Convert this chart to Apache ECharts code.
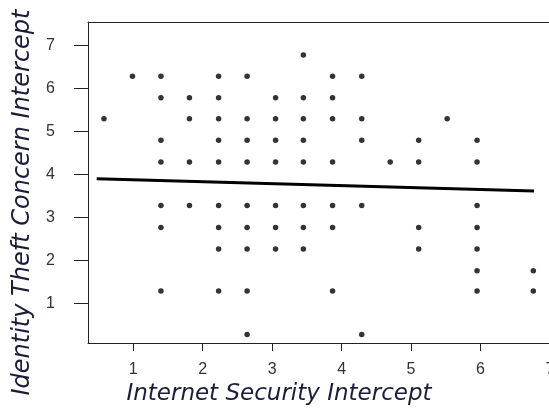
<!DOCTYPE html>
<html>
<head>
<meta charset="utf-8">
<script src="https://cdn.jsdelivr.net/npm/echarts@6/dist/echarts.min.js"></script>
<style>
  html, body { margin: 0; padding: 0; background: #fff; }
  #chart { width: 549px; height: 412px; }
</style>
</head>
<body>
<div id="chart"></div>
<script>
// x positions of the point columns (Internet Security Intercept)
const colX = [0.58, 0.99, 1.40, 1.81, 2.23, 2.64, 3.05, 3.45, 3.87, 4.29, 4.70, 5.11, 5.52, 5.95, 6.76];
// y values in each column (Identity Theft Concern Intercept)
const colY = [
  [5.30],
  [6.29],
  [6.29, 5.79, 4.80, 4.29, 3.28, 2.77, 1.29],
  [5.79, 5.30, 4.29, 3.28],
  [6.29, 5.79, 5.30, 4.80, 4.29, 3.28, 2.77, 2.27, 1.29],
  [6.29, 5.30, 4.80, 4.29, 3.28, 2.77, 2.27, 1.29, 0.28],
  [5.79, 5.30, 4.80, 4.29, 3.28, 2.77, 2.27],
  [6.78, 5.79, 5.30, 4.80, 4.29, 3.28, 2.77, 2.27],
  [6.29, 5.79, 5.30, 4.29, 3.28, 2.77, 1.29],
  [6.29, 5.30, 4.80, 3.28, 0.28],
  [4.29],
  [4.80, 4.29, 2.77, 2.27],
  [5.30],
  [4.80, 4.29, 3.28, 2.77, 2.27, 1.76, 1.29],
  [1.76, 1.29]
];
// fitted line end points
const lineX = [0.475, 6.77];
const lineY = [3.90, 3.62];
const xTicks = [1, 2, 3, 4, 5, 6, 7];
const yTicks = [1, 2, 3, 4, 5, 6, 7];

const points = [];
colX.forEach((x, i) => colY[i].forEach(y => points.push([x, y])));
const linePts = lineX.map((x, i) => [x, lineY[i]]);

const chart = echarts.init(document.getElementById('chart'));
chart.setOption({
  animation: false,
  backgroundColor: '#fff',
  grid: {
    left: 88, top: 22, right: -1, bottom: 69,
    containLabel: false, outerBoundsMode: 'none', show: false
  },
  xAxis: [
    {
      type: 'value', min: 0.35, max: 7,
      name: 'Internet Security Intercept',
      nameLocation: 'middle', nameGap: 40,
      nameTextStyle: {
        fontFamily: 'DejaVu Sans', fontStyle: 'italic', fontSize: 23,
        color: '#1c1c3a', padding: [0, 80, 0, 0]
      },
      axisLine: { show: true, onZero: false, lineStyle: { color: '#222', width: 1 } },
      axisTick: { show: true, length: 8, customValues: xTicks, lineStyle: { color: '#222' } },
      axisLabel: {
        customValues: xTicks, margin: 19,
        fontFamily: 'Liberation Sans', fontSize: 16, color: '#333'
      },
      splitLine: { show: false }
    },
    {
      type: 'value', position: 'top', min: 0.35, max: 7,
      axisLine: { show: true, onZero: false, lineStyle: { color: '#222', width: 1 } },
      axisTick: { show: false }, axisLabel: { show: false }, splitLine: { show: false }
    }
  ],
  yAxis: {
    type: 'value', min: 0.08, max: 7.55,
    name: 'Identity Theft Concern Intercept',
    nameLocation: 'middle', nameGap: 52,
    nameTextStyle: {
      fontFamily: 'DejaVu Sans', fontStyle: 'italic', fontSize: 24,
      color: '#1c1c3a', padding: [0, 40, 0, 0]
    },
    axisLine: { show: true, onZero: false, lineStyle: { color: '#222', width: 1 } },
    axisTick: { show: true, length: 14, customValues: yTicks, lineStyle: { color: '#222' } },
    axisLabel: {
      customValues: yTicks, margin: 33,
      fontFamily: 'Liberation Sans', fontSize: 16, color: '#333'
    },
    splitLine: { show: false }
  },
  series: [
    {
      type: 'scatter', data: points, symbol: 'circle', symbolSize: 5.5,
      itemStyle: { color: '#000' }, silent: true
    },
    {
      type: 'line', data: linePts, symbol: 'none',
      lineStyle: { color: '#000', width: 3 }, silent: true
    }
  ]
});
</script>
</body>
</html>
